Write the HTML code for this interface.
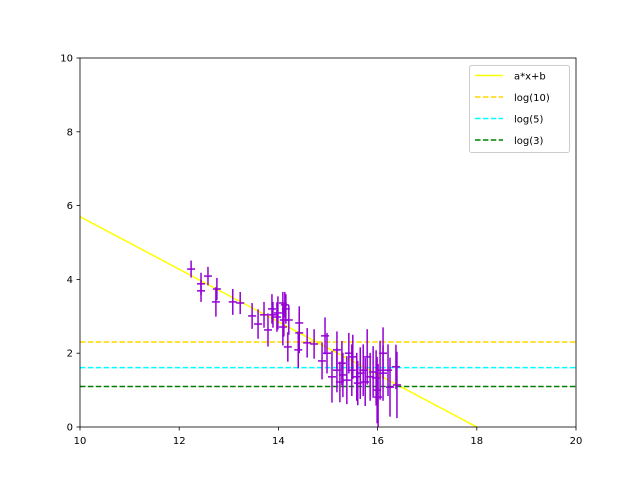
<!DOCTYPE html>
<html><head><meta charset="utf-8"><style>
body{margin:0;background:#fff}
svg{display:block;font-family:"DejaVu Sans","Liberation Sans",sans-serif}
</style></head><body>
<svg id="chart" width="640" height="480"></svg>
<script>
const xs=[12.24,12.44,12.44,12.58,12.76,12.74,13.08,13.23,13.47,13.59,13.71,13.79,13.87,13.89,13.97,13.99,14.09,14.13,14.15,14.11,14.21,14.09,14.19,14.42,14.40,14.58,14.72,14.42,14.88,14.94,14.98,15.08,15.18,15.18,15.24,15.28,15.30,15.38,15.42,15.48,15.50,15.58,15.60,15.65,15.71,15.75,15.79,15.85,15.91,15.97,15.99,16.01,16.05,16.11,16.11,16.21,16.25,16.37,16.39];
const ys=[4.28,3.88,3.69,4.09,3.74,3.39,3.39,3.36,3.01,2.79,3.04,2.63,3.20,3.04,2.98,3.09,3.36,3.31,3.20,2.90,2.90,2.71,2.17,2.82,2.09,2.28,2.25,2.55,1.79,2.47,2.00,1.36,2.09,1.54,1.22,1.73,1.41,1.27,2.00,1.54,1.90,1.36,1.19,1.46,1.54,1.22,1.90,1.36,1.49,1.33,1.00,0.81,1.54,2.00,1.46,1.54,1.08,1.63,1.14];
const yerr=[0.23,0.3,0.3,0.25,0.3,0.4,0.35,0.3,0.35,0.4,0.35,0.45,0.4,0.35,0.4,0.45,0.3,0.35,0.4,0.45,0.4,0.5,0.4,0.45,0.5,0.4,0.4,0.55,0.5,0.5,0.55,0.7,0.5,0.6,0.55,0.6,0.6,0.65,0.55,0.7,0.6,0.65,0.6,0.7,0.7,0.65,0.75,0.65,0.7,0.75,0.9,0.9,0.8,0.7,0.75,0.7,0.8,0.6,0.9];
const lineA=-0.7125, lineB=12.825;
const hlines=[Math.log(10),Math.log(5),Math.log(3)];
const hlabels=["log(10)","log(5)","log(3)"];
const hcolors=["#ffd700","#00ffff","#008000"];
const xTicks=[10,12,14,16,18,20];
const yTicks=[0,2,4,6,8,10];
const L=80,R=576,T=58,B=427;
const X=v=>L+(v-10)/10*(R-L), Y=v=>B-v/10*(B-T);
const svg=document.getElementById('chart');const NS='http://www.w3.org/2000/svg';
function mk(t,a,p){const e=document.createElementNS(NS,t);for(const k in a)e.setAttribute(k,a[k]);(p||svg).appendChild(e);return e;}
const clip=mk('clipPath',{id:'c'});mk('rect',{x:L,y:T,width:R-L,height:B-T},clip);
const plot=mk('g',{'clip-path':'url(#c)'});


const fit=mk('line',{x1:X(10),y1:Y(lineA*10+lineB),x2:X(20),y2:Y(lineA*20+lineB),stroke:'#ffff00','stroke-width':1.5},plot);


hlines.forEach((v,i)=>{const l=mk('line',{x1:L,x2:R,y1:Y(v),y2:Y(v),stroke:hcolors[i],'stroke-width':1.5,'stroke-dasharray':'5.5,2.4'},plot);

});
xs.forEach((x,i)=>{const g=mk('g',{stroke:'#9400d3','stroke-width':1.5},plot);


mk('line',{x1:X(x),x2:X(x),y1:Y(ys[i]-yerr[i]),y2:Y(ys[i]+yerr[i])},g);
mk('line',{x1:X(x)-4,x2:X(x)+4,y1:Y(ys[i]),y2:Y(ys[i])},g);});
const ax=mk('rect',{x:L,y:T,width:R-L,height:B-T,fill:'none',stroke:'#000','stroke-width':0.8});


xTicks.forEach(t=>{mk('line',{x1:X(t),x2:X(t),y1:B,y2:B+3.5,stroke:'#000','stroke-width':0.8});
const tx=mk('text',{x:X(t),y:B+17,'text-anchor':'middle','font-size':10});tx.textContent=t;

});
yTicks.forEach(t=>{mk('line',{x1:L-3.5,x2:L,y1:Y(t),y2:Y(t),stroke:'#000','stroke-width':0.8});
const tx=mk('text',{x:L-7,y:Y(t)+3.5,'text-anchor':'end','font-size':10});tx.textContent=t;

});
const lg=mk('g',{});


mk('rect',{x:469.5,y:65.5,width:100,height:87,rx:2,fill:'#fff',stroke:'#ccc'},lg);
const labs=["a*x+b"].concat(hlabels), cols=["#ffff00"].concat(hcolors);
labs.forEach((s,i)=>{const y=75.5+i*21.5;
mk('line',{x1:475,x2:503,y1:y,y2:y,stroke:cols[i],'stroke-width':1.5,'stroke-dasharray':i?'5.5,2.4':'none'},lg);
const t=mk('text',{x:514,y:y+4,'font-size':10},lg);t.textContent=s;

});
</script>
</body></html>
